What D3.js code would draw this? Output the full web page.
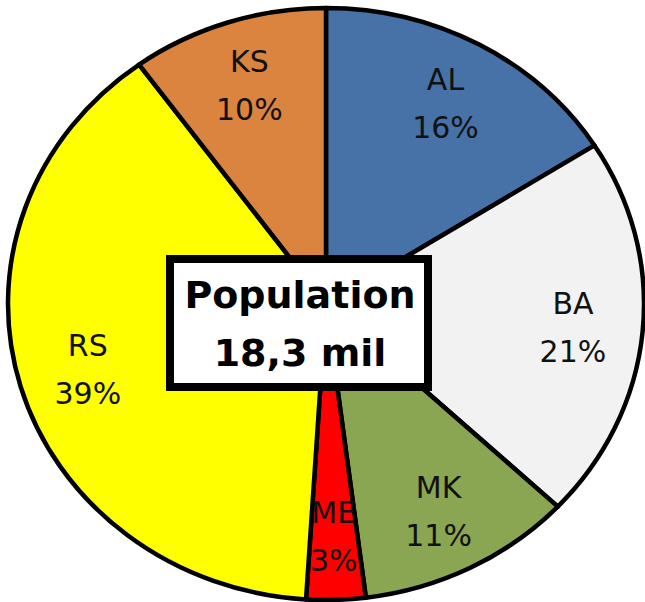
<!DOCTYPE html>
<html>
<head>
<meta charset="utf-8">
<script src="https://cdn.jsdelivr.net/npm/d3@7"></script>
<style>
  body { margin: 0; background: #fff; }
  svg { display: block; }
</style>
</head>
<body>
<div id="app"></div>
<script>
// Population share by region (%)
const regions = ['AL', 'BA', 'MK', 'ME', 'RS', 'KS'];
const shares = [16, 21, 11, 3, 39, 10];
const colors = ['#4672A8', '#F2F2F2', '#8BA652', '#FF0000', '#FFFF00', '#DA843F'];
const totalLabel = ['Population', '18,3 mil'];

const width = 645, height = 602;
const cx = 326, cy = 304;
const rx = 318, ry = 296;   // chart is slightly squashed vertically
const ky = ry / rx;

const svg = d3.select('#app').append('svg')
  .attr('width', width)
  .attr('height', height);

const data = regions.map((r, i) => ({ name: r, value: shares[i], color: colors[i] }));

const pie = d3.pie().sort(null).value(d => d.value);
const arcs = pie(data);

const arc = d3.arc().innerRadius(0).outerRadius(rx);
const labelArc = d3.arc().innerRadius(rx * 0.78).outerRadius(rx * 0.78);

// slices
svg.append('g')
  .attr('transform', `translate(${cx},${cy}) scale(1,${ky})`)
  .selectAll('path')
  .data(arcs)
  .join('path')
  .attr('d', arc)
  .attr('fill', d => d.data.color)
  .attr('stroke', '#000')
  .attr('stroke-width', 4.5)
  .attr('stroke-linejoin', 'round')
  .attr('vector-effect', 'non-scaling-stroke');

// slice labels
const labels = svg.append('g')
  .attr('font-family', '"DejaVu Sans", sans-serif')
  .attr('font-size', 30)
  .attr('text-anchor', 'middle')
  .attr('fill', '#111')
  .selectAll('text')
  .data(arcs)
  .join('text')
  .attr('transform', d => {
    const [x, y] = labelArc.centroid(d);
    return `translate(${cx + x},${cy + y * ky})`;
  });

labels.append('tspan')
  .attr('x', 0)
  .attr('y', -12)
  .text(d => d.data.name);

labels.append('tspan')
  .attr('x', 0)
  .attr('y', 36)
  .text(d => d.data.value + '%');

// centre box
const box = svg.append('g');
box.append('rect')
  .attr('x', 170)
  .attr('y', 259)
  .attr('width', 258)
  .attr('height', 128)
  .attr('fill', '#fff')
  .attr('stroke', '#000')
  .attr('stroke-width', 8);

box.selectAll('text')
  .data(totalLabel)
  .join('text')
  .attr('x', 300)
  .attr('y', (d, i) => 308 + i * 58)
  .attr('text-anchor', 'middle')
  .attr('font-family', '"DejaVu Sans", sans-serif')
  .attr('font-weight', 'bold')
  .attr('font-size', 38)
  .attr('fill', '#000')
  .text(d => d);
</script>
</body>
</html>
